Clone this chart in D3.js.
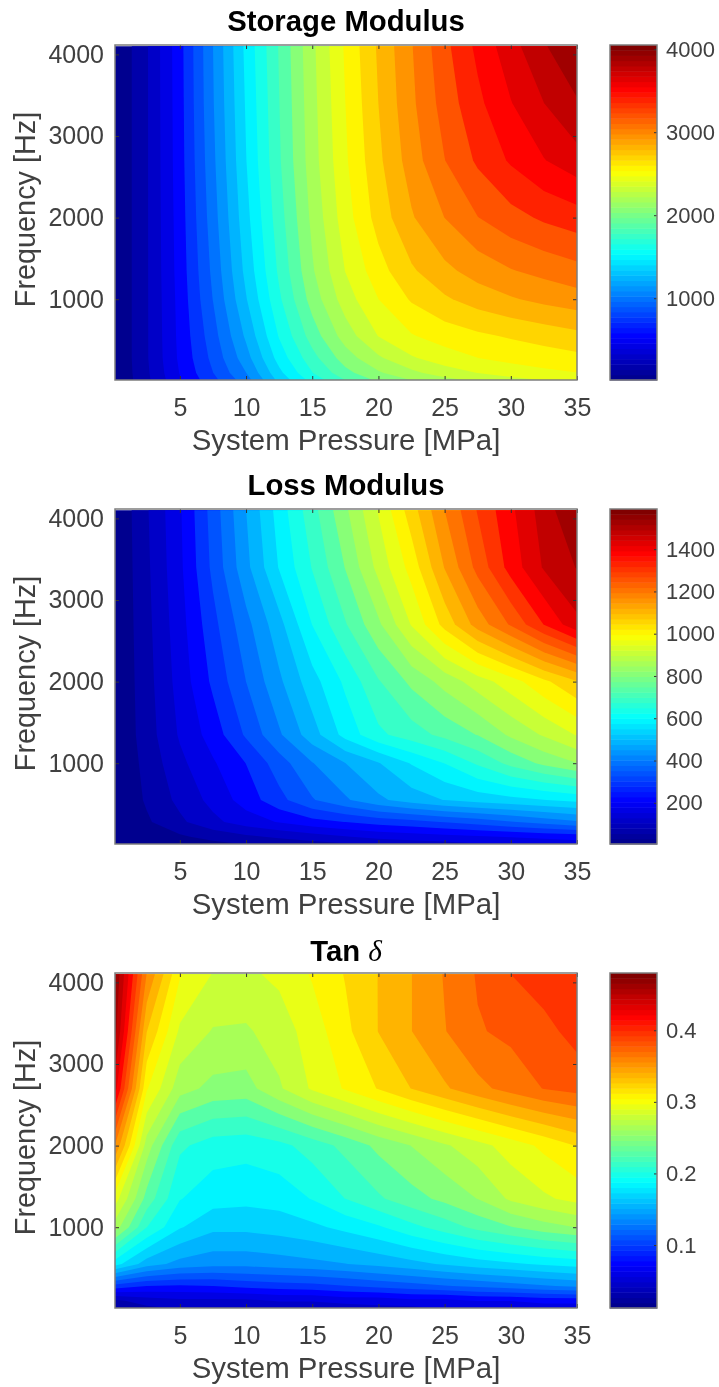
<!DOCTYPE html>
<meta charset="utf-8">
<style>
  body { margin: 0; background: #fff; }
  svg { display: block; filter: blur(0.5px); }
  text { font-family: "Liberation Sans", Arial, sans-serif; fill: #404040; }
</style>

<!-- Load d3.js -->
<script src="https://d3js.org/d3.v7.min.js"></script>

<div id="my_dataviz"></div>

<script>
// grid
const pressures = [0.1, 2.5, 5, 7.5, 10, 12.5, 15, 17.5, 20, 22.5, 25, 27.5, 30, 32.5, 35];
const frequencies = [10, 100, 280, 550, 1000, 1350, 2000, 2700, 3400, 4100];
const pressureTicks = [5, 10, 15, 20, 25, 30, 35];
const frequencyTicks = [1000, 2000, 3000, 4000];

// one row per frequency, lowest frequency first
const storageValues = [
  [15, 250, 540, 780, 1030, 1400, 1680, 1900, 2060, 2170, 2260, 2330, 2390, 2440, 2480],
  [15, 260, 560, 820, 1090, 1460, 1760, 1990, 2150, 2270, 2370, 2440, 2500, 2540, 2570],
  [15, 270, 580, 860, 1170, 1550, 1850, 2100, 2280, 2420, 2510, 2570, 2610, 2640, 2670],
  [15, 270, 590, 900, 1250, 1640, 1960, 2230, 2440, 2560, 2630, 2680, 2720, 2760, 2800],
  [15, 270, 600, 960, 1350, 1740, 2090, 2370, 2570, 2720, 2820, 2900, 2960, 3010, 3050],
  [15, 270, 610, 990, 1400, 1790, 2150, 2440, 2650, 2820, 2940, 3030, 3100, 3150, 3200],
  [15, 270, 620, 1030, 1450, 1840, 2200, 2510, 2760, 2960, 3110, 3240, 3330, 3400, 3450],
  [15, 270, 630, 1060, 1490, 1880, 2240, 2550, 2810, 3040, 3240, 3400, 3530, 3640, 3730],
  [15, 270, 635, 1080, 1510, 1895, 2255, 2570, 2840, 3080, 3300, 3480, 3640, 3780, 3900],
  [15, 270, 640, 1090, 1530, 1910, 2270, 2590, 2860, 3100, 3340, 3545, 3730, 3900, 4050]
];
const lossValues = [
  [5, 15, 30, 45, 60, 75, 90, 105, 120, 135, 145, 160, 170, 180, 190],
  [6, 30, 50, 75, 100, 120, 140, 160, 180, 190, 200, 210, 220, 230, 240],
  [6, 50, 100, 150, 190, 220, 250, 270, 290, 305, 325, 345, 370, 395, 420],
  [6, 65, 125, 180, 240, 305, 370, 420, 470, 505, 535, 555, 570, 585, 600],
  [6, 75, 150, 210, 270, 350, 425, 480, 530, 590, 640, 700, 760, 810, 850],
  [6, 85, 170, 240, 330, 420, 510, 605, 680, 720, 760, 800, 860, 910, 960],
  [6, 90, 185, 280, 375, 470, 565, 650, 740, 810, 870, 930, 985, 1050, 1110],
  [6, 95, 195, 305, 410, 515, 640, 740, 840, 960, 1080, 1190, 1280, 1380, 1470],
  [6, 100, 205, 335, 465, 590, 695, 800, 920, 1030, 1170, 1290, 1400, 1490, 1540],
  [6, 105, 210, 345, 480, 610, 725, 840, 960, 1090, 1220, 1330, 1420, 1510, 1590]
];
const tanValues = [
  [0.03, 0.04, 0.045, 0.045, 0.045, 0.05, 0.05, 0.05, 0.055, 0.055, 0.06, 0.06, 0.06, 0.065, 0.065],
  [0.04, 0.05, 0.055, 0.055, 0.055, 0.06, 0.06, 0.065, 0.065, 0.07, 0.07, 0.075, 0.075, 0.08, 0.08],
  [0.10, 0.09, 0.088, 0.09, 0.095, 0.098, 0.10, 0.105, 0.11, 0.115, 0.12, 0.125, 0.13, 0.135, 0.14],
  [0.19, 0.16, 0.147, 0.142, 0.142, 0.145, 0.148, 0.152, 0.157, 0.163, 0.17, 0.176, 0.181, 0.186, 0.19],
  [0.27, 0.215, 0.185, 0.172, 0.172, 0.175, 0.18, 0.188, 0.197, 0.21, 0.222, 0.235, 0.245, 0.255, 0.262],
  [0.30, 0.24, 0.20, 0.19, 0.188, 0.19, 0.20, 0.215, 0.228, 0.24, 0.25, 0.262, 0.28, 0.29, 0.298],
  [0.37, 0.27, 0.218, 0.207, 0.205, 0.21, 0.222, 0.235, 0.25, 0.262, 0.275, 0.287, 0.30, 0.312, 0.325],
  [0.44, 0.31, 0.268, 0.257, 0.255, 0.275, 0.295, 0.31, 0.325, 0.34, 0.353, 0.366, 0.377, 0.387, 0.392],
  [0.47, 0.34, 0.29, 0.276, 0.275, 0.285, 0.30, 0.32, 0.34, 0.355, 0.37, 0.385, 0.39, 0.397, 0.408],
  [0.48, 0.37, 0.31, 0.292, 0.29, 0.296, 0.31, 0.325, 0.34, 0.355, 0.372, 0.388, 0.402, 0.41, 0.418]
];
const storageTicks = [1000, 2000, 3000, 4000];
const lossTicks = [200, 400, 600, 800, 1000, 1200, 1400];
const tanTicks = [0.1, 0.2, 0.3, 0.4];

// set the dimensions of the graph
const width = 719, height = 1387;
const plotLeft = 115, plotRight = 577, plotHeight = 335;
const barLeft = 610, barRight = 657;
const levelCount = 30;

const svg = d3.select("#my_dataviz")
  .append("svg")
    .attr("width", width)
    .attr("height", height);

// matlab jet, 64 steps
const jetRamp = d3.scaleLinear()
  .domain([0, 0.125, 0.375, 0.625, 0.875, 1])
  .range(["#00008f", "#0000ff", "#00ffff", "#ffff00", "#ff0000", "#800000"])
  .clamp(true);
const jet = t => jetRamp(Math.round(t * 63) / 63);

function drawPanel(panel, i) {
  const top = panel.top, bottom = top + plotHeight;
  const x = d3.scaleLinear().domain([0.1, 35]).range([plotLeft, plotRight]);
  const y = d3.scaleLinear().domain([10, 4115]).range([bottom, top]);
  const c = d3.scaleLinear().domain(panel.domain).range([bottom, top]);

  // grid index --> real axis value, piecewise because the grid is not even
  const pressureAt = d3.scaleLinear().domain(pressures.map((d, k) => k)).range(pressures).clamp(true);
  const frequencyAt = d3.scaleLinear().domain(frequencies.map((d, k) => k)).range(frequencies).clamp(true);
  const path = d3.geoPath(d3.geoTransform({
    point(px, py) {
      this.stream.point(x(pressureAt(px - 0.5)), y(frequencyAt(py - 0.5)));
    }
  }));

  const clipId = "plot-clip-" + i;
  svg.append("clipPath").attr("id", clipId)
    .append("rect")
      .attr("x", plotLeft).attr("y", top)
      .attr("width", plotRight - plotLeft).attr("height", plotHeight);

  const t = d3.scaleLinear().domain(panel.domain).range([0, 1]);
  const levels = d3.range(levelCount).map(k => panel.domain[0] + (panel.domain[1] - panel.domain[0]) * k / levelCount);
  const contours = d3.contours()
    .size([pressures.length, frequencies.length])
    .thresholds(levels)(panel.values.flat());

  svg.append("g").attr("clip-path", `url(#${clipId})`)
    .selectAll("path")
    .data(contours)
    .join("path")
      .attr("d", path)
      .attr("fill", d => jet(t(d.value)));

  // axes
  const xAxis = svg.append("g")
    .attr("transform", `translate(0, ${bottom})`)
    .call(d3.axisBottom(x).tickValues(pressureTicks).tickSize(-4).tickPadding(18).tickSizeOuter(0));
  const yAxis = svg.append("g")
    .attr("transform", `translate(${plotLeft}, 0)`)
    .call(d3.axisLeft(y).tickValues(frequencyTicks).tickSize(-4).tickPadding(11).tickFormat(d3.format("d")).tickSizeOuter(0));
  svg.append("g").attr("transform", `translate(0, ${top})`)
    .call(d3.axisTop(x).tickValues(pressureTicks).tickSize(-4).tickFormat("").tickSizeOuter(0));
  svg.append("g").attr("transform", `translate(${plotRight}, 0)`)
    .call(d3.axisRight(y).tickValues(frequencyTicks).tickSize(-4).tickFormat("").tickSizeOuter(0));

  // colorbar
  const steps = d3.range(64);
  const stepY = d3.scaleBand().domain(steps).range([bottom, top]);
  svg.append("g").selectAll("rect")
    .data(steps)
    .join("rect")
      .attr("x", barLeft)
      .attr("y", d => stepY(d))
      .attr("width", barRight - barLeft)
      .attr("height", stepY.bandwidth() + 0.5)
      .attr("fill", d => jet(d / 63));
  const barAxis = svg.append("g")
    .attr("transform", `translate(${barRight}, 0)`)
    .call(d3.axisRight(c).tickValues(panel.ticks).tickSize(-3).tickPadding(9).tickFormat(panel.format).tickSizeOuter(0));

  svg.selectAll(".tick line").attr("stroke", "#333").attr("stroke-width", 1);
  svg.selectAll(".domain").remove();

  xAxis.selectAll("text").attr("font-size", 25);
  yAxis.selectAll("text").attr("font-size", 25);
  barAxis.selectAll("text").attr("font-size", 22);

  // frames
  [[plotLeft, plotRight], [barLeft, barRight]].forEach(e => {
    svg.append("rect")
      .attr("x", e[0]).attr("y", top)
      .attr("width", e[1] - e[0]).attr("height", plotHeight)
      .attr("fill", "none")
      .attr("stroke", "#7d7d7d")
      .attr("stroke-width", 1.5);
  });

  // labels
  const title = svg.append("text")
    .attr("x", (plotLeft + plotRight) / 2)
    .attr("y", panel.titleY)
    .attr("text-anchor", "middle")
    .attr("font-size", 29.3)
    .attr("font-weight", "bold")
    .style("fill", "#000");
  panel.title.forEach(part => {
    const s = title.append("tspan").text(part.text);
    if (part.symbol) s.style("font-family", "Liberation Serif").attr("font-style", "italic").attr("font-weight", "normal");
  });

  svg.append("text")
    .attr("x", (plotLeft + plotRight) / 2)
    .attr("y", bottom + 70)
    .attr("text-anchor", "middle")
    .attr("font-size", 29.4)
    .text("System Pressure [MPa]");

  svg.append("text")
    .attr("transform", `translate(35, ${top + 164.5}) rotate(-90)`)
    .attr("text-anchor", "middle")
    .attr("font-size", 28.8)
    .text("Frequency [Hz]");
}

[
  {top: 45, titleY: 30.5, values: storageValues, domain: [15, 4050], ticks: storageTicks, format: d3.format("d"), title: [{text: "Storage Modulus"}]},
  {top: 509, titleY: 494.5, values: lossValues, domain: [5, 1590], ticks: lossTicks, format: d3.format("d"), title: [{text: "Loss Modulus"}]},
  {top: 973, titleY: 961, values: tanValues, domain: [0.012, 0.48], ticks: tanTicks, format: d3.format(".1f"), title: [{text: "Tan "}, {text: "δ", symbol: true}]}
].forEach(drawPanel);
</script>
